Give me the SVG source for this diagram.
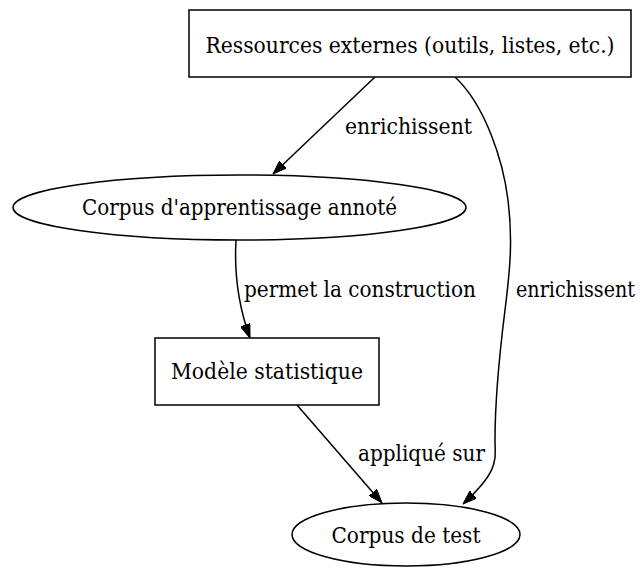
<svg xmlns="http://www.w3.org/2000/svg" width="641" height="568" viewBox="0 0 641 568">
  <style>
    .node { fill: #ffffff; stroke: #000000; stroke-width: 1.5; }
    .edge { fill: none; stroke: #000000; stroke-width: 1.5; }
    .c { text-anchor: middle; }
  </style>
  <defs>
    <marker id="arrow" viewBox="0 0 14 10" refX="14" refY="5" markerWidth="14" markerHeight="10" markerUnits="userSpaceOnUse" orient="auto">
      <path d="M0,0 L14,5 L0,10 z" fill="#000000" stroke="#000000" stroke-width="1"/>
    </marker>
  </defs>
  <rect width="641" height="568" fill="#ffffff"/>

  <g font-family="'DejaVu Serif', serif" font-size="21.5" fill="#000000">
    <!-- connectors -->
    <g id="edges">
      <g id="e_ressources_apprentissage">
        <path class="edge" d="M375,77 L273,174" marker-end="url(#arrow)"/>
        <text x="345" y="134" textLength="127" lengthAdjust="spacingAndGlyphs">enrichissent</text>
      </g>
      <g id="e_apprentissage_modele">
        <path class="edge" d="M236,240 C234,275 238,305 250,338" marker-end="url(#arrow)"/>
        <text x="244" y="297" textLength="232" lengthAdjust="spacingAndGlyphs">permet la construction</text>
      </g>
      <g id="e_modele_test">
        <path class="edge" d="M297,405 L382,503" marker-end="url(#arrow)"/>
        <text x="358" y="461" textLength="127" lengthAdjust="spacingAndGlyphs">appliqué sur</text>
      </g>
      <g id="e_ressources_test">
        <path class="edge" d="M455,77 C485,105 503,160 508,200 C513,240 510,270 505,310 C500,350 495,400 495,440 C495,460 500,470 463,504" marker-end="url(#arrow)"/>
        <text x="516" y="297" textLength="119" lengthAdjust="spacingAndGlyphs">enrichissent</text>
      </g>
    </g>

    <!-- nodes -->
    <g id="ressources">
      <rect class="node" x="189" y="10" width="442" height="67"/>
      <text class="c" x="410" y="53" textLength="409" lengthAdjust="spacingAndGlyphs">Ressources externes (outils, listes, etc.)</text>
    </g>
    <g id="apprentissage">
      <ellipse class="node" cx="239.5" cy="207.5" rx="226.5" ry="32.5"/>
      <text class="c" x="239.5" y="215" textLength="315" lengthAdjust="spacingAndGlyphs">Corpus d'apprentissage annoté</text>
    </g>
    <g id="modele">
      <rect class="node" x="155" y="338" width="224" height="67"/>
      <text class="c" x="267" y="379" textLength="192" lengthAdjust="spacingAndGlyphs">Modèle statistique</text>
    </g>
    <g id="test">
      <ellipse class="node" cx="406" cy="534.5" rx="114" ry="31.5"/>
      <text class="c" x="406" y="543" textLength="149" lengthAdjust="spacingAndGlyphs">Corpus de test</text>
    </g>
  </g>
</svg>
